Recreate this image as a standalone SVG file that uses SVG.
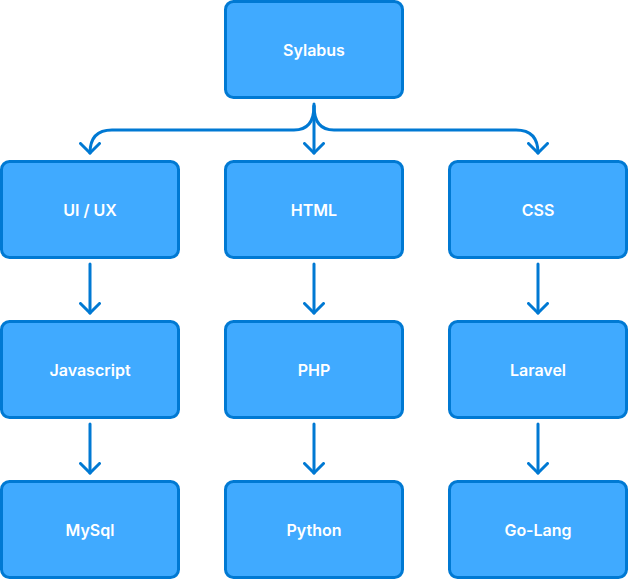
<svg xmlns="http://www.w3.org/2000/svg" width="628" height="580" viewBox="0 0 628 580">
<style>
.n rect{fill:#40AAFF;stroke:#0079D3;stroke-width:3}
.n text{fill:#FFFFFF;font-family:Inter,"Liberation Sans",sans-serif;font-size:16px;font-weight:600;text-anchor:middle;dominant-baseline:central}
.c path{fill:none;stroke:#0079D3;stroke-width:3;stroke-linecap:round;stroke-linejoin:round}
</style>
<defs>
<marker id="ah" viewBox="0 0 22 22" refX="11" refY="11" markerWidth="22" markerHeight="22" markerUnits="userSpaceOnUse" orient="auto">
<path d="M1.5,1.5 L11,11 L1.5,20.5" fill="none" stroke="#0079D3" stroke-width="3" stroke-linecap="round" stroke-linejoin="round"/>
</marker>
</defs>
<g class="c">
<path d="M314,104 L314,153" marker-end="url(#ah)"/>
<path d="M314,106 Q314,130 294,130 L112,130 Q90,130 90,153" marker-end="url(#ah)"/>
<path d="M314,106 Q314,130 334,130 L516,130 Q538,130 538,153" marker-end="url(#ah)"/>
<path d="M90,264 L90,313" marker-end="url(#ah)"/>
<path d="M314,264 L314,313" marker-end="url(#ah)"/>
<path d="M538,264 L538,313" marker-end="url(#ah)"/>
<path d="M90,424 L90,473" marker-end="url(#ah)"/>
<path d="M314,424 L314,473" marker-end="url(#ah)"/>
<path d="M538,424 L538,473" marker-end="url(#ah)"/>
</g>
<g id="sylabus" class="n"><rect x="225.5" y="1.5" width="177" height="96" rx="8"/><text x="314" y="50">Sylabus</text></g>
<g id="uiux" class="n"><rect x="1.5" y="161.5" width="177" height="96" rx="8"/><text x="90" y="210">UI / UX</text></g>
<g id="html" class="n"><rect x="225.5" y="161.5" width="177" height="96" rx="8"/><text x="314" y="210">HTML</text></g>
<g id="css" class="n"><rect x="449.5" y="161.5" width="177" height="96" rx="8"/><text x="538" y="210">CSS</text></g>
<g id="javascript" class="n"><rect x="1.5" y="321.5" width="177" height="96" rx="8"/><text x="90" y="370">Javascript</text></g>
<g id="php" class="n"><rect x="225.5" y="321.5" width="177" height="96" rx="8"/><text x="314" y="370">PHP</text></g>
<g id="laravel" class="n"><rect x="449.5" y="321.5" width="177" height="96" rx="8"/><text x="538" y="370">Laravel</text></g>
<g id="mysql" class="n"><rect x="1.5" y="481.5" width="177" height="96" rx="8"/><text x="90" y="530">MySql</text></g>
<g id="python" class="n"><rect x="225.5" y="481.5" width="177" height="96" rx="8"/><text x="314" y="530">Python</text></g>
<g id="golang" class="n"><rect x="449.5" y="481.5" width="177" height="96" rx="8"/><text x="538" y="530">Go-Lang</text></g>
</svg>
